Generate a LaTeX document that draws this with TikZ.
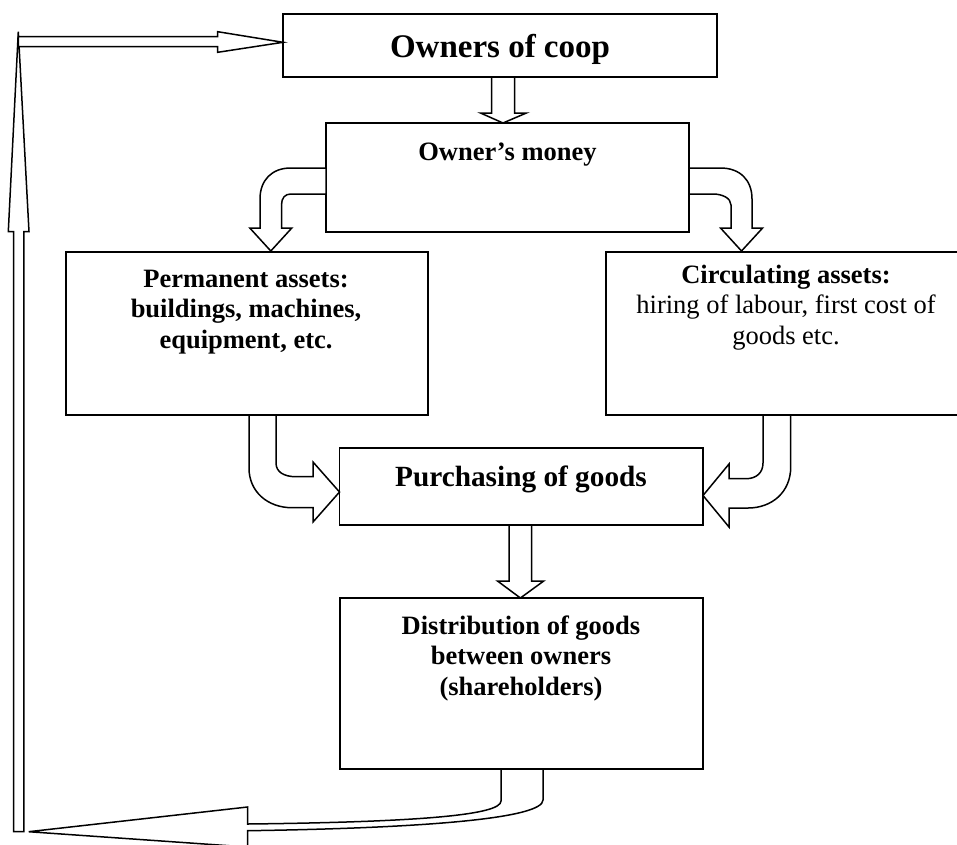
\documentclass[tikz,border=0pt]{standalone}
\usepackage{fontspec}
\setmainfont{Liberation Serif}
\begin{document}
\begin{tikzpicture}[x=1pt,y=-1pt,line width=1.5pt,
  box/.style={draw,rectangle,inner sep=0pt,outer sep=0pt,anchor=north west},
  blockarrow/.style={draw,fill=white,line join=miter},
  txt/.style={inner sep=0pt,anchor=base,font=\fontsize{26.5}{30.5}\selectfont},
  bigtxt/.style={inner sep=0pt,anchor=base,font=\fontsize{29.3}{33}\selectfont\bfseries}]
\path[use as bounding box] (0,0) rectangle (957,844);
\clip (0,0) rectangle (957,844);

% boxes
\node[box,minimum width=434pt,minimum height=63pt] (owners) at (283,14) {};
\node[box,minimum width=363pt,minimum height=109pt] (money) at (326,123) {};
\node[box,minimum width=362pt,minimum height=163pt] (perm) at (66,252) {};
\node[box,minimum width=356pt,minimum height=163pt] (circ) at (606,252) {};
\node[box,minimum width=363.5pt,minimum height=77pt] (purch) at (339.5,448) {};
\node[box,minimum width=363pt,minimum height=171pt] (dist) at (340,598) {};

% texts
\node[bigtxt,font=\fontsize{33}{36}\selectfont\bfseries] (towners) at (500,57) {Owners of coop};
\node[txt,font=\fontsize{26.5}{30.5}\selectfont\bfseries] (tmoney) at (507.5,160) {Owner’s money};
\node[txt] (tperm) at (246,287) {\parbox[t]{340pt}{\centering\bfseries Permanent assets:\\buildings, machines,\\equipment, etc.}};
\node[txt] (tcirc) at (786,283) {\parbox[t]{340pt}{\centering\textbf{Circulating assets:}\\hiring of labour, first cost of\\goods etc.}};
\node[bigtxt] (tpurch) at (521,486) {Purchasing of goods};
\node[txt] (tdist) at (521,634) {\parbox[t]{340pt}{\centering\bfseries Distribution of goods\\between owners\\(shareholders)}};

% owners -> money
\draw[blockarrow] (491.6,77) -- (491.6,113) -- (480.5,113) -- (503,123) -- (526.4,113) -- (514.6,113) -- (514.6,77) -- cycle;

% money -> permanent
\draw[blockarrow] (326,168) -- (290.7,168) .. controls (272,168) and (260,180) .. (260,199) -- (260,228) -- (249.8,228) -- (270.8,251) -- (291.8,228) -- (281.5,228) -- (281.5,205) .. controls (281.5,198) and (285,194) .. (290.7,194) -- (326,194) -- cycle;

% money -> circulating
\draw[blockarrow] (689,168) -- (720.5,168) .. controls (740,168) and (752,180) .. (752,199) -- (752,228) -- (762.6,228) -- (741.5,251) -- (720.5,228) -- (731,228) -- (731,205) .. controls (731,198) and (722,194) .. (713,194) -- (689,194) -- cycle;

% permanent -> purchasing
\draw[blockarrow] (249,415) -- (249,468) .. controls (249,492) and (268,507.7) .. (292,507.7) -- (313,507.7) -- (313,522) -- (339.5,492) -- (313,462) -- (313,476.7) -- (296,476.7) .. controls (284,476.7) and (276,472) .. (276,463) -- (276,415) -- cycle;

% circulating -> purchasing
\draw[blockarrow] (763,415) -- (763,463) .. controls (763,473) and (756,478.7) .. (746,478.7) -- (729,478.7) -- (729,464) -- (703,495.5) -- (729,527) -- (729,508) -- (748,508) .. controls (772,508) and (790.7,492) .. (790.7,467) -- (790.7,415) -- cycle;

% purchasing -> distribution
\draw[blockarrow] (509,525) -- (509,581) -- (497.5,581) -- (520.4,598) -- (543.7,581) -- (531.5,581) -- (531.5,525) -- cycle;

% left vertical return arrow
\draw[blockarrow] (13.5,831.7) -- (13.5,231.7) -- (8.3,231.7) -- (18.3,31.7) -- (29,231.7) -- (23.8,231.7) -- (23.8,831.7) -- cycle;

% top horizontal arrow -> owners
\draw[blockarrow] (18.3,36.7) -- (217.7,36.7) -- (217.7,31.7) -- (283,42.3) -- (217.7,52.3) -- (217.7,46.7) -- (18.3,46.7) -- cycle;

% distribution -> return
\draw[blockarrow] (501,769) -- (501,801) .. controls (501,815) and (420,822) .. (247.5,824) -- (247.5,807) -- (28.6,831.7) -- (247.5,847) -- (247.5,830.7) .. controls (430,828) and (543,818) .. (543,800) -- (543,769) -- cycle;
\end{tikzpicture}
\end{document}
